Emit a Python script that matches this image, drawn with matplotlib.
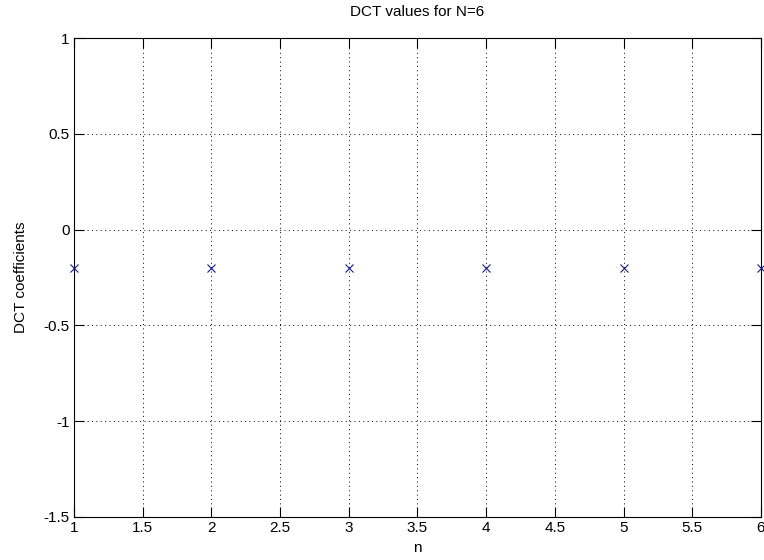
import numpy as np
import matplotlib
matplotlib.use('Agg')
import matplotlib.pyplot as plt

plt.rcParams['font.family'] = ['Liberation Sans', 'DejaVu Sans']

# ---------- DATA ----------
n = [1, 2, 3, 4, 5, 6]
dct_vals = [-0.2, -0.2, -0.2, -0.2, -0.2, -0.2]
xticks = [1, 1.5, 2, 2.5, 3, 3.5, 4, 4.5, 5, 5.5, 6]
yticks = [-1.5, -1, -0.5, 0, 0.5, 1]

# ---------- PLOT ----------
fig = plt.figure(figsize=(7.64, 5.6), dpi=100)
ax = fig.add_axes([0.0969, 0.0768, 0.899, 0.855])
ax.plot(n, dct_vals, 'x', color='#1a1a8c', markersize=5.5, markeredgewidth=0.8, clip_on=False, zorder=3)
ax.set_xlim(1, 6)
ax.set_ylim(-1.5, 1)
ax.set_xticks(xticks)
ax.set_xticklabels(['1', '1.5', '2', '2.5', '3', '3.5', '4', '4.5', '5', '5.5', '6'])
ax.set_yticks(yticks)
ax.set_yticklabels(['-1.5', '-1', '-0.5', '0', '0.5', '1'])
ax.grid(True, linestyle=(0, (1, 3.5)), color='black', linewidth=0.7)
ax.tick_params(direction='in', length=7, width=0.8, top=True, right=True, labelsize=11, pad=3)
for s in ax.spines.values():
    s.set_linewidth(0.8)
ax.set_title('DCT values for N=6', fontsize=11, pad=16)
ax.set_xlabel('n', fontsize=11, labelpad=4)
ax.set_ylabel('DCT coefficients', fontsize=11, labelpad=11)
fig.savefig('out.png', dpi=100)
